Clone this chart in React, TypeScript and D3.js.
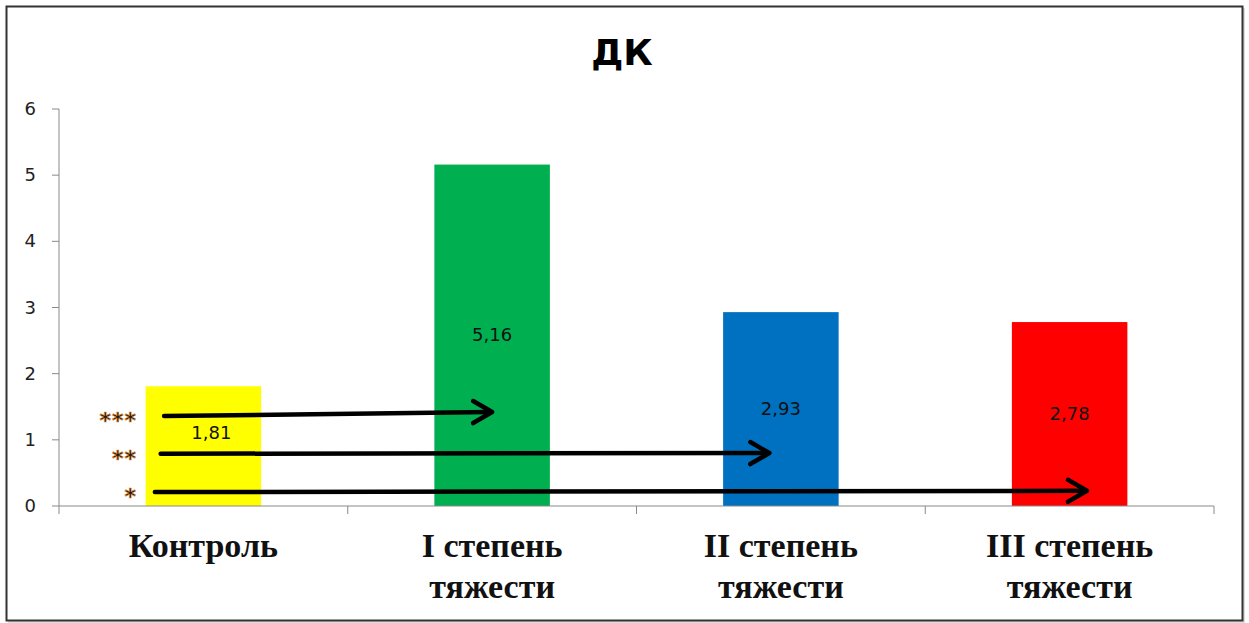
import React from 'react';
import * as d3 from 'd3';

const categories = ['Контроль', 'I степень|тяжести', 'II степень|тяжести', 'III степень|тяжести'];
const values = [1.81, 5.16, 2.93, 2.78];
const valueLabels = ['1,81', '5,16', '2,93', '2,78'];
const barColors = ['#FFFF00', '#00B050', '#0070C0', '#FF0000'];
const yTicks = [0, 1, 2, 3, 4, 5, 6];

// significance arrows: from control to each group
const sigStars = ['***', '**', '*'];
const sigTarget = [1, 2, 3];
const sigStartY = [1.36, 0.79, 0.21];
const sigEndY = [1.42, 0.8, 0.23];
const sigStartFrac = [0.16, 0.13, 0.08];
const sigEndFrac = [0.5, 0.4, 0.65];

const W = 1249;
const H = 623;
const margin = { left: 59, right: 1214, top: 109, bottom: 506 };

export default function App() {
  const x = d3
    .scaleBand<number>()
    .domain(d3.range(categories.length))
    .range([margin.left, margin.right])
    .paddingInner(0.6)
    .paddingOuter(0.3);
  const band = (margin.right - margin.left) / categories.length;
  const y = d3.scaleLinear().domain([0, 6]).range([margin.bottom, margin.top]);
  const bw = x.bandwidth();

  return (
    <div style={{ position: 'absolute', left: 0, top: 0 }}>
      <svg width={W} height={H} style={{ display: 'block', background: '#fff' }}>
        {/* frame */}
        <rect x={8} y={8} width={1237} height={615} fill="#bbb" opacity={0.5} />
        <rect x={6.5} y={6.5} width={1236} height={614} fill="#fff" stroke="#333" strokeWidth={2} />

        <text
          x={622}
          y={65}
          textAnchor="middle"
          fontFamily="DejaVu Sans"
          fontWeight="bold"
          fontSize={36}
          fill="#000"
        >
          ДК
        </text>

        {/* bars */}
        {values.map((v, i) => (
          <rect key={i} x={x(i)} y={y(v)} width={bw} height={y(0) - y(v)} fill={barColors[i]} />
        ))}

        {/* y axis */}
        <line x1={margin.left} x2={margin.left} y1={y(6)} y2={y(0)} stroke="#898989" strokeWidth={1} />
        {yTicks.map((t) => (
          <g key={t}>
            <line x1={margin.left - 7} x2={margin.left} y1={y(t)} y2={y(t)} stroke="#898989" />
            <text
              x={36}
              y={y(t) + 6}
              textAnchor="end"
              fontFamily="DejaVu Sans"
              fontSize={18}
              fill="#222"
            >
              {t}
            </text>
          </g>
        ))}

        {/* x axis */}
        <line x1={margin.left} x2={margin.right} y1={y(0)} y2={y(0)} stroke="#898989" />
        {d3.range(categories.length + 1).map((i) => (
          <line
            key={i}
            x1={margin.left + i * band}
            x2={margin.left + i * band}
            y1={y(0)}
            y2={y(0) + 8}
            stroke="#898989"
          />
        ))}

        {/* category labels */}
        {categories.map((c, i) => (
          <text
            key={i}
            textAnchor="middle"
            fontFamily="Liberation Serif"
            fontWeight="bold"
            fontSize={34}
            fill="#111"
          >
            {c.split('|').map((line, j) => (
              <tspan key={j} x={x(i)! + bw / 2} y={557 + j * 41}>
                {line}
              </tspan>
            ))}
          </text>
        ))}

        {/* value labels */}
        {values.map((v, i) => (
          <text
            key={i}
            x={x(i)! + bw / 2 + (i === 0 ? 8 : 0)}
            y={y(v / 2) + 6 - (i === 0 ? 13 : 0)}
            textAnchor="middle"
            fontFamily="DejaVu Sans"
            fontSize={18}
            fill="#111"
          >
            {valueLabels[i]}
          </text>
        ))}

        {/* significance arrows */}
        {sigTarget.map((t, k) => {
          const x1 = x(0)! + bw * sigStartFrac[k];
          const y1 = y(sigStartY[k]);
          const x2 = x(t)! + bw * sigEndFrac[k];
          const y2 = y(sigEndY[k]);
          return (
            <g key={k} stroke="#000" strokeWidth={4.5} fill="none" strokeLinecap="round" strokeLinejoin="round">
              <line x1={x1} y1={y1} x2={x2 - 2} y2={y2} />
              <polyline points={`${x2 - 19},${y2 - 11} ${x2},${y2} ${x2 - 19},${y2 + 11}`} />
            </g>
          );
        })}

        {/* stars */}
        {sigStars.map((s, k) => (
          <text
            key={k}
            x={137}
            y={y(sigStartY[k]) + 12}
            textAnchor="end"
            fontFamily="DejaVu Sans"
            fontWeight="bold"
            fontSize={22}
            letterSpacing={1}
            fill="#1a1a1a"
            stroke="#E08A2A"
            strokeWidth={0.6}
          >
            {s}
          </text>
        ))}
      </svg>
    </div>
  );
}
